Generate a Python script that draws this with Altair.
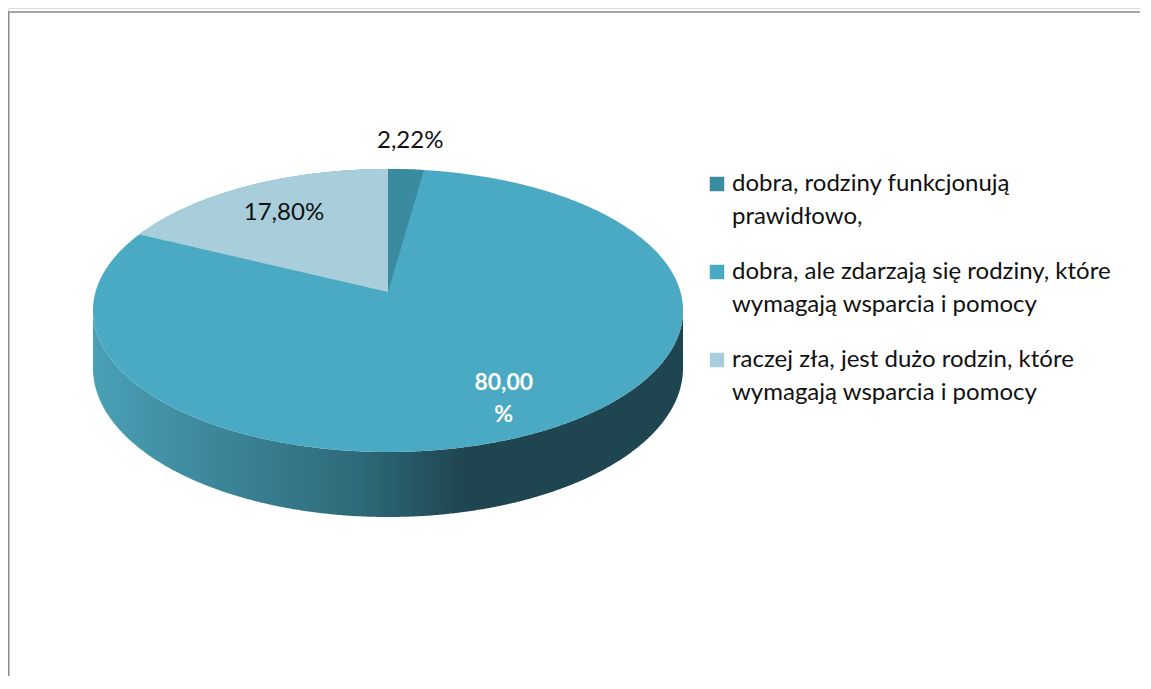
import math
import numpy as np
import pandas as pd
import altair as alt

# ---------------- data ----------------
categories = [
    "dobra, rodziny funkcjonują prawidłowo,",
    "dobra, ale zdarzają się rodziny, które wymagają wsparcia i pomocy",
    "raczej zła, jest dużo rodzin, które wymagają wsparcia i pomocy",
]
legend_lines = [
    ["dobra, rodziny funkcjonują", "prawidłowo,"],
    ["dobra, ale zdarzają się rodziny, które", "wymagają wsparcia i pomocy"],
    ["raczej zła, jest dużo rodzin, które", "wymagają wsparcia i pomocy"],
]
shares = [2.22, 80.00, 17.80]
share_labels = ["2,22%", "80,00%", "17,80%"]
colors = ["#3a8ba0", "#4aa9c3", "#a8cedb"]

# ---------------- layout / style ----------------
W, H = 1132, 668
CX, CY = 380.0, 284.0          # pie apex (view px)
SX, SY = 292.5, 139.1          # projected radii
K = 0.1307                     # perspective factor
DEPTH = 56.5                   # thickness of the pie
FONT = "Lato"
TEXT = "#111111"
N = 500
LAB_LH = 32


def proj(phi):
    u, v = np.sin(phi), np.cos(phi)
    w = 1 + K * v
    return CX + SX * u / w, CY - SY * v / w, w


total = sum(shares)
ends = np.cumsum(shares) / total * 2 * math.pi
starts = np.concatenate([[0.0], ends[:-1]])
big = int(np.argmax(shares))

phi_r = math.acos(-K)
_, y_ext, _ = proj(np.array(phi_r))
y_ext = float(y_ext)

# top face of the main slice (whole ellipse, upper and lower halves)
ph_u = np.linspace(-phi_r, phi_r, N)
xu, yu, _ = proj(ph_u)
ph_l = np.linspace(phi_r, 2 * math.pi - phi_r, N)
xl, yl, wl = proj(ph_l)
main_df = pd.concat([
    pd.DataFrame({"x": xu, "y": yu, "y2": y_ext + 1.5, "part": "upper", "cat": categories[big]}),
    pd.DataFrame({"x": xl, "y": np.full(N, y_ext), "y2": yl, "part": "lower", "cat": categories[big]}),
])

# side wall
side_df = pd.DataFrame({"x": xl, "y": yl, "y2": yl + DEPTH / wl})

# other wedges drawn over the main slice
rows = []
for i, (a0, a1) in enumerate(zip(starts, ends)):
    if i == big:
        continue
    p0 = a0 - 2 * math.pi if a0 > math.pi else a0
    p1 = a1 - 2 * math.pi if a1 > math.pi + 1e-9 else a1
    ph = np.linspace(p0, p1, 200)
    x, y, _ = proj(ph)
    x0, y0, _ = proj(np.array(p0))
    x1, y1, _ = proj(np.array(p1))
    for xi, yi in zip(x, y):
        if xi < CX - 1e-9:
            ex, ey = float(x0), float(y0)
        else:
            ex, ey = float(x1), float(y1)
        if abs(ex - CX) < 1e-9:
            yline = CY
        else:
            yline = CY + (ey - CY) * (xi - CX) / (ex - CX)
        rows.append({"x": xi, "y": yi, "y2": yline, "cat": categories[i], "part": str(i)})
wedge_df = pd.DataFrame(rows)

# data labels
lab = []
for i, (a0, a1) in enumerate(zip(starts, ends)):
    mid = (a0 + a1) / 2
    f = 1.23 if shares[i] < 5 else 0.745
    u, v = math.sin(mid), math.cos(mid)
    w = 1 + K * v
    txt = share_labels[i]
    y = CY - f * SY * v / w
    if i == big:
        txt = txt.replace("%", "\n%")
        y -= 0.375 * LAB_LH
    lab.append({"x": CX + f * SX * u / w, "y": y, "text": txt, "big": i == big})
lab_df = pd.DataFrame(lab)

# legend table
LEG_Y = [176.0, 264.0, 352.0]
LINE_H = 33.0
leg_rows = []
for i, lines in enumerate(legend_lines):
    for j, t in enumerate(lines):
        leg_rows.append({"cat": categories[i], "text": t, "ly": LEG_Y[i] + j * LINE_H, "first": j == 0})
leg_df = pd.DataFrame(leg_rows)

xs = alt.Scale(domain=[0, W], nice=False, zero=False)
ys = alt.Scale(domain=[0, H], nice=False, zero=False, reverse=True)
cs = alt.Scale(domain=categories, range=colors)

X = alt.X("x:Q", scale=xs, axis=None)
Y = alt.Y("y:Q", scale=ys, axis=None)

side = alt.Chart(side_df).mark_area(
    color=alt.LinearGradient(
        gradient="linear",
        stops=[
            alt.GradientStop(color="#4aa0b6", offset=0),
            alt.GradientStop(color="#3d879b", offset=0.2),
            alt.GradientStop(color="#2e6a79", offset=0.45),
            alt.GradientStop(color="#1f4550", offset=0.63),
            alt.GradientStop(color="#1f4550", offset=1),
        ],
        x1=0, x2=1, y1=0, y2=0,
    )
).encode(x=X, y=Y, y2="y2:Q")

top_main = alt.Chart(main_df).mark_area().encode(
    x=X, y=Y, y2="y2:Q", detail="part:N",
    color=alt.Color("cat:N", scale=cs, legend=None),
)

wedges = alt.Chart(wedge_df).mark_area().encode(
    x=X, y=Y, y2="y2:Q", detail="part:N",
    color=alt.Color("cat:N", scale=cs, legend=None),
)

labels_small = alt.Chart(lab_df).transform_filter("!datum.big").mark_text(
    font=FONT, fontSize=24, color=TEXT, align="center", baseline="middle"
).encode(x=X, y=Y, text="text:N")

labels_big = alt.Chart(lab_df).transform_filter("datum.big").mark_text(
    font=FONT, fontSize=23, fontWeight="bold", color="white", align="center",
    baseline="middle", lineBreak="\n", lineHeight=LAB_LH
).encode(x=X, y=Y, text="text:N")

leg_sq = alt.Chart(leg_df).transform_filter("datum.first").mark_square(
    size=210, opacity=1
).encode(
    x=alt.value(709), y=alt.Y("ly:Q", scale=ys, axis=None),
    color=alt.Color("cat:N", scale=cs, legend=None),
)

leg_txt = alt.Chart(leg_df).mark_text(
    font=FONT, fontSize=24, color=TEXT, align="left", baseline="middle"
).encode(
    x=alt.value(724), y=alt.Y("ly:Q", scale=ys, axis=None), text="text:N"
)

frame_top = alt.Chart(pd.DataFrame({"k": [0]})).mark_rule(
    color="#8a8a8a", strokeWidth=1.5
).encode(x=alt.value(0), x2=alt.value(W), y=alt.value(4))
frame_left = alt.Chart(pd.DataFrame({"k": [0]})).mark_rule(
    color="#8a8a8a", strokeWidth=1.5
).encode(x=alt.value(0.75), y=alt.value(4), y2=alt.value(H))

chart = alt.layer(
    side, top_main, wedges, labels_small, labels_big, leg_sq, leg_txt, frame_top, frame_left
).properties(
    width=W, height=H, padding=0, autosize=alt.AutoSizeParams(type="none")
).configure_view(stroke=None).configure(background="white")

chart.save("out.html", embed_options={"renderer": "svg", "actions": False})
